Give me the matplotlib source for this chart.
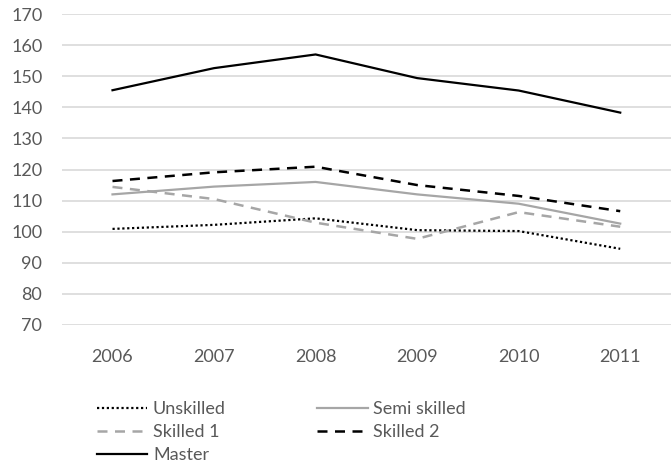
import matplotlib.pyplot as plt

plt.rcParams['font.family'] = ['Lato', 'DejaVu Sans']

years = ['2006', '2007', '2008', '2009', '2010', '2011']
unskilled = [100.9, 102.2, 104.3, 100.5, 100.2, 94.5]
semi_skilled = [112.0, 114.5, 116.0, 112.0, 109.0, 102.6]
skilled_1 = [114.4, 110.5, 102.9, 97.7, 106.3, 101.6]
skilled_2 = [116.3, 119.1, 120.9, 115.0, 111.5, 106.6]
master = [145.5, 152.6, 157.0, 149.4, 145.4, 138.3]

fig = plt.figure(figsize=(6.71, 4.68), dpi=100)
ax = fig.add_axes([0.092, 0.3056, 0.908, 0.6644])

x = range(len(years))
ax.plot(x, unskilled, color='black', linestyle=(0, (1, 1.2)), lw=1.6, label='Unskilled')
ax.plot(x, skilled_1, color='#a6a6a6', linestyle=(0, (4, 3)), lw=1.8, label='Skilled 1')
ax.plot(x, master, color='black', lw=1.6, label='Master')
ax.plot(x, semi_skilled, color='#a6a6a6', lw=1.6, label='Semi skilled')
ax.plot(x, skilled_2, color='black', linestyle=(0, (4, 3)), lw=1.8, label='Skilled 2')

ax.set_xlim(-0.5, 5.5)
ax.set_ylim(70, 170)
ax.set_yticks(range(70, 171, 10))
ax.set_xticks(list(x))
ax.set_xticklabels(years)
ax.grid(axis='y', color='#d9d9d9', lw=1.2)
ax.set_axisbelow(True)
for s in ax.spines.values():
    s.set_visible(False)
ax.tick_params(length=0, labelsize=13, labelcolor='#595959')
ax.tick_params(axis='x', pad=17)
ax.tick_params(axis='y', pad=14)

fig.legend(loc='upper left', bbox_to_anchor=(0.131, 0.162), ncol=2, frameon=False,
           fontsize=13, labelcolor='#595959', handlelength=2.8, handletextpad=0.3,
           columnspacing=5.05, labelspacing=0.38, borderpad=0)

fig.savefig('out.png', dpi=100)
